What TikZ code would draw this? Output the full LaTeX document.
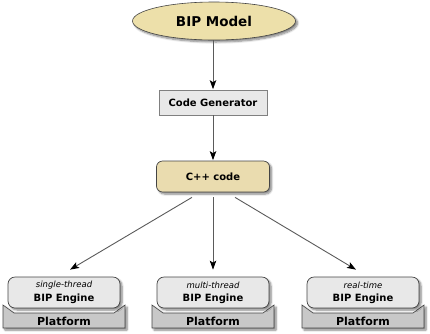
\documentclass[tikz,border=0pt]{standalone}
\usepackage{fontspec}
\setmainfont{DejaVu Sans}
\usetikzlibrary{shapes.geometric,arrows.meta,shadows.blur}
\definecolor{tan}{HTML}{EDE0AA}
\definecolor{tanbox}{HTML}{EADCAF}
\definecolor{lgray}{HTML}{E8E8E8}
\definecolor{pgray}{HTML}{C8C8C8}
\definecolor{edge}{HTML}{444444}
\definecolor{linec}{HTML}{5A5A5A}
\tikzset{
  shd/.style={blur shadow={shadow xshift=2pt,shadow yshift=-2pt,shadow blur steps=6,shadow blur radius=2pt,shadow opacity=50}},
  arr/.style={draw=linec,line width=0.9pt,-{Stealth[length=9pt,width=6.5pt,inset=2pt,black]}},
  modelnode/.style={ellipse,shd,fill=tan,draw=edge,line width=0.6pt,minimum width=163pt,minimum height=38pt,inner sep=0pt,font=\fontsize{13.5}{15}\selectfont\bfseries},
  gennode/.style={rectangle,fill=lgray,draw=gray,line width=0.6pt,minimum width=108pt,minimum height=25pt,inner sep=0pt,font=\fontsize{10}{12}\selectfont\bfseries},
  codenode/.style={rectangle,rounded corners=6pt,shd,fill=tanbox,draw=edge,line width=0.7pt,minimum width=113pt,minimum height=31pt,inner sep=0pt,font=\fontsize{10}{12}\selectfont\bfseries},
  engnode/.style={rectangle,rounded corners=7pt,shd,fill=lgray,draw=edge,line width=0.7pt,minimum width=112pt,minimum height=31pt,inner sep=0pt,align=center},
  platshape/.style={shd,fill=pgray,draw=edge,line width=0.6pt},
  plattext/.style={font=\fontsize{11}{13}\selectfont\bfseries,inner sep=0pt},
  kindtext/.style={font=\fontsize{8.5}{10}\selectfont\itshape},
  engtext/.style={font=\fontsize{10}{12}\selectfont\bfseries}
}
\newcommand{\platform}[2]{%
  \fill[platshape] (#1-61,305) -- (#1-50,313) -- (#1+50,313) -- (#1+61,305) -- (#1+61,328) -- (#1-61,328) -- cycle;
  \node[plattext] (#2) at (#1,321) {Platform};
}
\begin{document}
\begin{tikzpicture}[x=1pt,y=-1pt]
\useasboundingbox (0,0) rectangle (430,333);
\node[modelnode] (model) at (214,21) {BIP Model};
\node[gennode] (gen) at (213,102.5) {Code Generator};
\node[codenode] (cpp) at (213,176.5) {C++ code};
\platform{64}{p1}
\platform{213}{p2}
\platform{363}{p3}
\node[engnode] (e1) at (64,292.5) {};
\node[engnode] (e2) at (213,292.5) {};
\node[engnode] (e3) at (363,292.5) {};
\node[kindtext] (k1) at (64,285) {single-thread};
\node[kindtext] (k2) at (213,285) {multi-thread};
\node[kindtext] (k3) at (363,285) {real-time};
\node[engtext] (b1) at (64,299) {BIP Engine};
\node[engtext] (b2) at (213,299) {BIP Engine};
\node[engtext] (b3) at (363,299) {BIP Engine};
\draw[arr] ([xshift=-1pt]model.south) -- ([yshift=0.5pt]gen.north);
\draw[arr] (gen.south) -- ([yshift=0.5pt]cpp.north);
\draw[arr] ([xshift=-21pt,yshift=-5pt]cpp.south) -- ([xshift=6pt,yshift=7pt]e1.north);
\draw[arr] ([yshift=-5pt]cpp.south) -- ([yshift=7pt]e2.north);
\draw[arr] ([xshift=22pt,yshift=-5pt]cpp.south) -- ([xshift=-7pt,yshift=7pt]e3.north);
\end{tikzpicture}
\end{document}
